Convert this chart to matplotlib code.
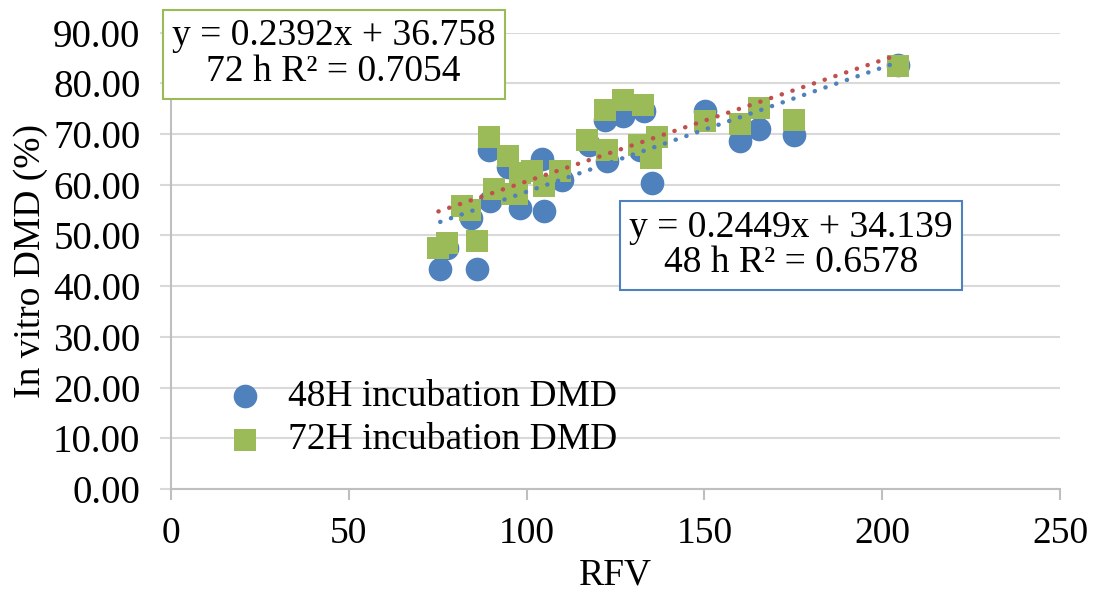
import numpy as np
import matplotlib.pyplot as plt

plt.rcParams['font.family'] = ['Liberation Serif', 'DejaVu Serif']

# 48 h incubation (RFV, DMD %)
rfv_48 = [75.7, 77.5, 84.4, 86.0, 89.5, 89.7, 94.9, 98.2, 104.2, 104.8, 109.9,
          117.4, 122.1, 122.6, 127.2, 131.9, 132.9, 135.2, 150.2, 160.1, 165.4,
          175.2, 204.3]
dmd_48 = [43.3, 47.6, 53.5, 43.3, 66.9, 56.8, 63.6, 55.4, 65.0, 54.8, 61.0,
          67.9, 72.8, 64.6, 73.5, 66.9, 74.5, 60.4, 74.5, 68.6, 71.0,
          69.9, 83.7]

# 72 h incubation (RFV, DMD %)
rfv_72 = [75.2, 77.7, 81.8, 84.1, 86.0, 89.5, 90.7, 94.7, 95.8, 97.2, 98.2,
          101.5, 104.8, 109.4, 117.1, 122.1, 122.6, 127.2, 131.7, 132.6,
          134.9, 136.6, 150.2, 159.9, 165.4, 175.2, 204.3]
dmd_72 = [47.6, 48.6, 55.8, 55.1, 48.9, 69.5, 59.1, 65.6, 58.1, 58.1, 62.4,
          62.7, 59.7, 62.7, 68.9, 74.8, 66.9, 76.8, 67.9, 75.8,
          65.3, 69.5, 72.5, 71.9, 75.1, 72.8, 83.5]

# linear trendlines as printed on the chart
slope_48, icpt_48 = 0.2449, 34.139
slope_72, icpt_72 = 0.2392, 36.758

blue = '#4F81BD'
green = '#9BBB59'
red = '#C0504D'
grid_gray = '#D9D9D9'
fs = 27

fig = plt.figure(figsize=(10.94, 6.01), dpi=100)
ax = fig.add_axes([0.1563, 0.1864, 0.8127, 0.7592])

ax.scatter(rfv_48, dmd_48, s=290, marker='o', color=blue, linewidths=0,
           label='48H incubation DMD', zorder=3)
ax.scatter(rfv_72, dmd_72, s=260, marker='s', color=green, linewidths=0,
           label='72H incubation DMD', zorder=4)

dots = (0, (0.05, 2.5))
xs = np.array([min(rfv_48), max(rfv_48)])
ax.plot(xs, slope_48 * xs + icpt_48, linestyle=dots, color=blue,
        lw=3.2, dash_capstyle='round', zorder=5)
xs = np.array([min(rfv_72), max(rfv_72)])
ax.plot(xs, slope_72 * xs + icpt_72, linestyle=dots, color=red,
        lw=3.2, dash_capstyle='round', zorder=5)

ax.set_xlim(0, 250)
ax.set_ylim(0, 90)
ax.set_xticks(range(0, 251, 50))
ax.set_yticks(range(0, 91, 10))
ax.yaxis.set_major_formatter(plt.FuncFormatter(lambda v, p: f'{v:.2f}'))
ax.grid(axis='y', color=grid_gray, lw=1.5)
ax.set_axisbelow(True)
for side in ['top', 'right']:
    ax.spines[side].set_visible(False)
for side in ['left', 'bottom']:
    ax.spines[side].set_color('#BFBFBF')
    ax.spines[side].set_linewidth(1.5)
ax.tick_params(axis='y', length=8, width=1.5, color=grid_gray, labelsize=28, pad=14)
ax.tick_params(axis='x', length=8, width=1.5, color='#BFBFBF', labelsize=fs, pad=12)

ax.set_xlabel('RFV', fontsize=fs, labelpad=5)
ax.set_ylabel('In vitro DMD (%)', fontsize=fs, labelpad=4)

ax.legend(loc='center left', bbox_to_anchor=(0.041, 0.155), frameon=False,
          fontsize=fs, handletextpad=0.15, handlelength=2.0,
          labelspacing=0.25, borderpad=0, borderaxespad=0)

ax.text(0.183, 0.953, 'y = 0.2392x + 36.758\n72 h R² = 0.7054',
        transform=ax.transAxes, fontsize=fs, ha='center', va='center',
        multialignment='center', linespacing=1.05,
        bbox=dict(boxstyle='square,pad=0.25', fc='white', ec=green, lw=1.5))
ax.text(0.697, 0.534, 'y = 0.2449x + 34.139\n48 h R² = 0.6578',
        transform=ax.transAxes, fontsize=fs, ha='center', va='center',
        multialignment='center', linespacing=1.05,
        bbox=dict(boxstyle='square,pad=0.25', fc='white', ec=blue, lw=1.5))

fig.savefig('out.png', dpi=100)
